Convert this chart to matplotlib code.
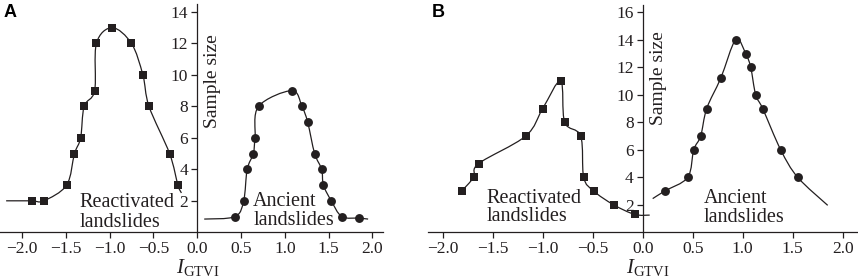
import numpy as np
import matplotlib
matplotlib.use("Agg")
import matplotlib.pyplot as plt
from matplotlib.path import Path
from matplotlib.patches import PathPatch
from matplotlib.ticker import FuncFormatter

# ---- data ----
# panel A, reactivated landslides (squares)
a_react_x = [-1.89, -1.75, -1.49, -1.40, -1.33, -1.29, -1.17, -1.15, -0.97, -0.75, -0.62, -0.55, -0.315, -0.22]
a_react_y = [2, 2, 3, 5, 6, 8, 9, 12, 13, 12, 10, 8, 5, 3]
a_react_ends = [(-2.18, 2.0), (-0.18, 2.5)]
# panel A, ancient landslides (circles)
a_anc_x = [0.43, 0.53, 0.57, 0.64, 0.66, 0.70, 1.08, 1.195, 1.26, 1.34, 1.42, 1.44, 1.53, 1.65, 1.85]
a_anc_y = [1, 2, 4, 5, 6, 8, 9, 8, 7, 5, 4, 3, 2, 1, 0.9]
a_anc_ends = [(0.08, 0.84), (1.95, 0.84)]

# panel B, reactivated landslides (squares)
b_react_x = [-1.81, -1.69, -1.64, -1.17, -1.00, -0.82, -0.78, -0.62, -0.59, -0.49, -0.29, -0.08]
b_react_y = [3, 4, 5, 7, 9, 11, 8, 7, 4, 3, 2, 1.3]
b_react_ends = [None, (0.07, 1.25)]
# panel B, ancient landslides (circles)
b_anc_x = [0.22, 0.45, 0.51, 0.58, 0.64, 0.78, 0.93, 1.03, 1.08, 1.13, 1.20, 1.38, 1.55]
b_anc_y = [3, 4, 6, 7, 9, 11.2, 14, 13, 12, 10, 9, 6, 4]
b_anc_ends = [(0.10, 2.45), (1.85, 1.96)]

x_ticks = [-2.0, -1.5, -1.0, -0.5, 0.0, 0.5, 1.0, 1.5, 2.0]
a_y_ticks = [2, 4, 6, 8, 10, 12, 14]
b_y_ticks = [2, 4, 6, 8, 10, 12, 14, 16]

INK = "#231f20"
SERIF = "Liberation Serif"

plt.rcParams.update({
    "font.family": SERIF,
    "mathtext.fontset": "custom",
    "mathtext.rm": SERIF,
    "mathtext.it": SERIF + ":italic",
    "axes.linewidth": 0.9,
})


def smooth_path(xs, ys, ends):
    """Catmull-Rom curve through the points, as cubic Bezier segments."""
    pts = list(zip(xs, ys))
    if ends[0] is not None:
        pts = [ends[0]] + pts
    if ends[1] is not None:
        pts = pts + [ends[1]]
    pts = np.asarray(pts, dtype=float)
    n = len(pts)
    verts = [pts[0]]
    codes = [Path.MOVETO]
    for i in range(n - 1):
        p0 = pts[max(i - 1, 0)]
        p1 = pts[i]
        p2 = pts[i + 1]
        p3 = pts[min(i + 2, n - 1)]
        verts += [p1 + (p2 - p0) / 6, p2 - (p3 - p1) / 6, p2]
        codes += [Path.CURVE4] * 3
    return Path(verts, codes)


def draw_series(ax, xs, ys, ends, marker, ms):
    ax.add_patch(PathPatch(smooth_path(xs, ys, ends), facecolor="none",
                           edgecolor=INK, linewidth=0.9, zorder=2))
    ax.plot(xs, ys, linestyle="none", marker=marker, markersize=ms,
            color=INK, markeredgewidth=0, zorder=3)


def style_axis(ax, xlim, ylim, yticks):
    ax.set_xlim(*xlim)
    ax.set_ylim(*ylim)
    for s in ("top", "right"):
        ax.spines[s].set_visible(False)
    ax.spines["left"].set_position(("data", 0))
    ax.spines["left"].set_color(INK)
    ax.spines["bottom"].set_color(INK)
    ax.set_xticks(x_ticks)
    ax.set_yticks(yticks)
    fmt = FuncFormatter(lambda v, p: f"{v:.1f}".replace("-", "\u2212"))
    ax.xaxis.set_major_formatter(fmt)
    ax.tick_params(axis="both", direction="out", length=4, width=0.9,
                   color=INK, labelcolor=INK, labelsize=12.5, pad=2.5)
    ax.patch.set_visible(False)


fig = plt.figure(figsize=(8.58, 2.77), dpi=100)
ax_a = fig.add_axes([0.0, 0.1614, 0.4464, 0.824])
ax_b = fig.add_axes([0.4988, 0.1614, 0.5012, 0.819])

style_axis(ax_a, (-2.25, 2.12), (0, 14.5), a_y_ticks)
style_axis(ax_b, (-2.147, 2.153), (0, 16.5), b_y_ticks)

draw_series(ax_a, a_react_x, a_react_y, a_react_ends, "s", 5.8)
draw_series(ax_a, a_anc_x, a_anc_y, a_anc_ends, "o", 6.4)
draw_series(ax_b, b_react_x, b_react_y, b_react_ends, "s", 5.8)
draw_series(ax_b, b_anc_x, b_anc_y, b_anc_ends, "o", 6.4)

txt = dict(fontsize=14.5, color=INK, va="baseline", ha="left")
ax_a.text(-1.34, 1.62, "Reactivated", **txt)
ax_a.text(-1.34, 0.36, "landslides", **txt)
ax_a.text(0.64, 1.70, "Ancient", **txt)
ax_a.text(0.64, 0.46, "landslides", **txt)
ax_b.text(-1.56, 2.10, "Reactivated", **txt)
ax_b.text(-1.56, 0.85, "landslides", **txt)
ax_b.text(0.61, 2.15, "Ancient", **txt)
ax_b.text(0.61, 0.77, "landslides", **txt)

ax_a.text(0.17, 9.6, "Sample size", rotation=90, ha="center", va="center",
          fontsize=14, color=INK)
ax_b.text(0.16, 11.2, "Sample size", rotation=90, ha="center", va="center",
          fontsize=14, color=INK)

fig.text(0.2308, 0.016, r"$I_{\mathrm{GTVI}}$", ha="center", va="baseline",
         fontsize=15, color=INK)
fig.text(0.7552, 0.016, r"$I_{\mathrm{GTVI}}$", ha="center", va="baseline",
         fontsize=15, color=INK)

fig.text(0.004, 0.94, "A", fontsize=13, fontweight="bold",
         family="Liberation Sans", va="baseline", ha="left")
fig.text(0.503, 0.94, "B", fontsize=13, fontweight="bold",
         family="Liberation Sans", va="baseline", ha="left")

fig.savefig("out.png", dpi=100)
plt.close(fig)
